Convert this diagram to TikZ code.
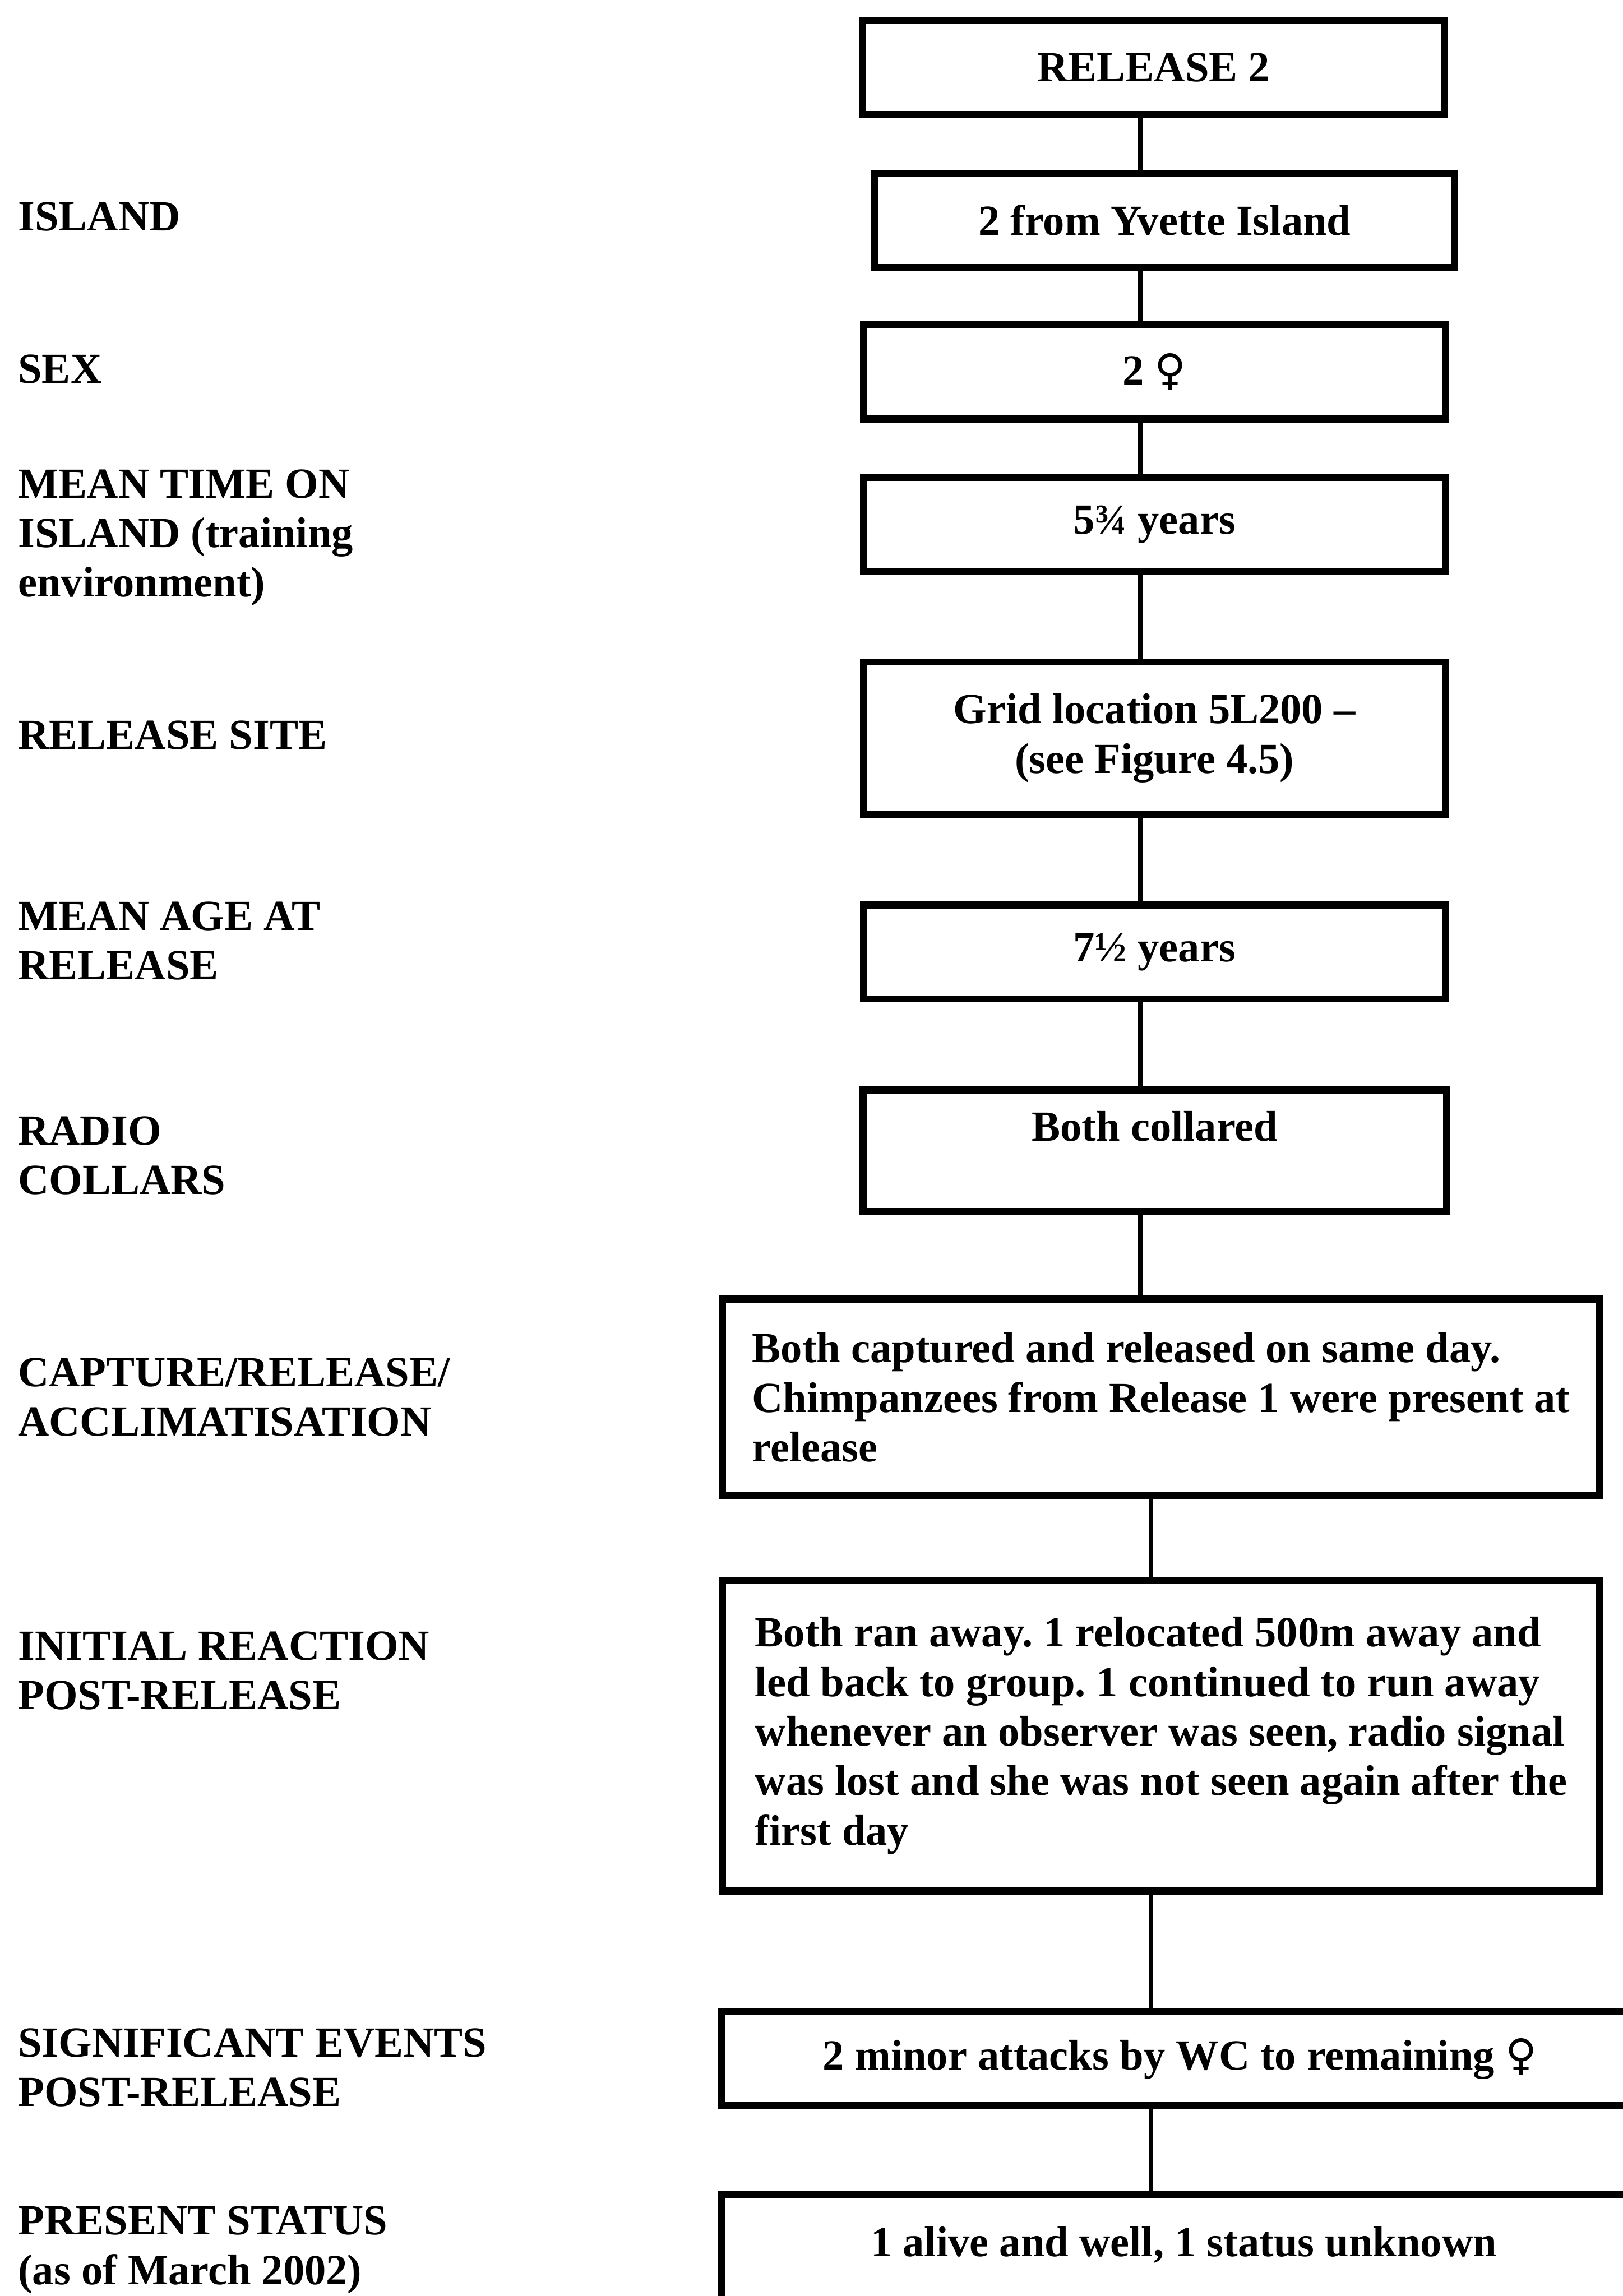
\documentclass[tikz,border=0pt]{standalone}
\usepackage{fontspec}
\setmainfont{Liberation Serif}
\newfontfamily\symfont{DejaVu Sans}
\usepackage{tikz}
\usetikzlibrary{positioning}

\newcommand{\fsz}{\fontsize{15.6}{18}\selectfont\frenchspacing}
\newcommand{\fem}{{\symfont\mdseries ♀}}

\begin{document}
\begin{tikzpicture}[
    box/.style={
        draw, line width=2.6pt, inner sep=0pt,
        minimum width=7.43cm, minimum height=1.2cm,
        font=\fsz\bfseries, align=center
    },
    wide/.style={box, minimum width=11.21cm, inner xsep=0.34cm, align=left},
    head/.style={anchor=west, inner sep=0pt, font=\fsz\bfseries, align=left},
    link/.style={line width=1.7pt}
]

\useasboundingbox (0,0) rectangle (20.73,-29.33);
\clip (0,0) rectangle (20.73,-29.33);

\coordinate (trunk)  at (14.56,0);
\coordinate (trunkb) at (14.70,0);

% boxes
\node[box] (R2)    at (14.735,-0.86)  {RELEASE 2};
\node[box, minimum width=7.41cm] (ISL) at (14.875,-2.816) {2 from Yvette Island};
\node[box] (SEX)   at (14.745,-4.752) {2 \fem};
\node[box] (TIME)  at (14.745,-6.70)  {5¾ years};
\node[box, minimum height=1.946cm] (SITE) at (14.745,-9.43) {Grid location 5L200 –\\(see Figure 4.5)};
\node[box] (AGE)   at (14.745,-12.16) {7½ years};
\node[box, minimum width=7.45cm, minimum height=1.55cm] (COL) at (14.75,-14.70) {Both collared\\\mbox{}};
\node[wide, minimum height=2.51cm] (CAP) at (14.83,-17.85)
    {Both captured and released on same day.\\Chimpanzees from Release 1 were present at\\release};
\node[wide, minimum height=3.97cm] (REACT) at (14.83,-22.17)
    {Both ran away. 1 relocated 500m away and\\led back to group. 1 continued to run away\\whenever an observer was seen, radio signal\\was lost and she was not seen again after the\\first day};
\node[box, minimum width=11.7cm] (EV) at (15.07,-26.30) {2 minor attacks by WC to remaining \fem};
\node[box, minimum width=11.8cm, minimum height=1.84cm] (STAT) at (15.12,-28.95) {1 alive and well, 1 status unknown\\\mbox{}};

% row titles
\node[head] (ISLt)   at (0.225,-2.77)  {ISLAND};
\node[head] (SEXt)   at (0.225,-4.715) {SEX};
\node[head] (TIMEt)  at (0.225,-6.87)  {MEAN TIME ON\\ISLAND (training\\environment)};
\node[head] (SITEt)  at (0.225,-9.39)  {RELEASE SITE};
\node[head] (AGEt)   at (0.225,-12.02) {MEAN AGE AT\\RELEASE};
\node[head] (COLt)   at (0.225,-14.76) {RADIO\\COLLARS};
\node[head] (CAPt)   at (0.225,-17.85) {CAPTURE/RELEASE/\\ACCLIMATISATION};
\node[head] (REACTt) at (0.225,-21.34) {INITIAL REACTION\\POST-RELEASE};
\node[head] (EVt)    at (0.225,-26.41) {SIGNIFICANT EVENTS\\POST-RELEASE};
\node[head] (STATt)  at (0.225,-28.74) {PRESENT STATUS\\(as of March 2002)};

% links
\foreach \a/\b in {R2/ISL, ISL/SEX, SEX/TIME, TIME/SITE, SITE/AGE, AGE/COL, COL/CAP}
    \draw[link] (\a.south -| trunk) -- (\b.north -| trunk);
\foreach \a/\b in {CAP/REACT, REACT/EV, EV/STAT}
    \draw[link] (\a.south -| trunkb) -- (\b.north -| trunkb);

\end{tikzpicture}
\end{document}
